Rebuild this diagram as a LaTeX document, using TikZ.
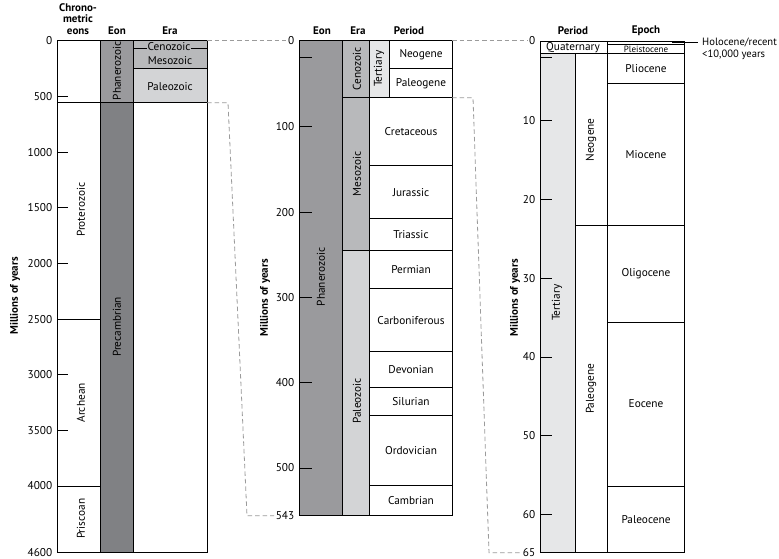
\documentclass[tikz,border=0pt]{standalone}
\usepackage{fontspec}
\setmainfont{PT Sans}
\usetikzlibrary{calc,positioning}
\definecolor{geoEonDark}{HTML}{808184}
\definecolor{geoEonMid}{HTML}{9A9A9D}
\definecolor{geoEraMid}{HTML}{B8B9BB}
\definecolor{geoEraLight}{HTML}{D3D4D6}
\definecolor{geoTert}{HTML}{E6E7E8}
\definecolor{geoLink}{HTML}{9B9B9B}
\begin{document}
\begin{tikzpicture}[x=1pt,y=-1pt,line cap=butt,line join=miter,font=\fontsize{11.3}{13}\selectfont]
\path[fill=white] (0,0) rectangle (779,556);
\tikzset{cell/.style={draw=black,line width=0.9pt},tick/.style={draw=black,line width=0.9pt},link/.style={draw=geoLink,line width=0.8pt,dash pattern=on 4.5pt off 3pt},hdr/.style={font=\fontsize{11}{12.5}\selectfont\bfseries,align=center},vlbl/.style={rotate=90},num/.style={anchor=east,inner sep=1.5pt}}
% chronometric eons, full span
\path[fill=geoEonMid] (100,40) rectangle (133,102);
\path[fill=geoEonDark] (100,102) rectangle (133,552);
\path[fill=geoEraMid] (133,40) rectangle (207,68);
\path[fill=geoEraLight] (133,68) rectangle (207,102);
\draw[cell] (133,47.5) -- (207,47.5);
\node[fill=geoEraMid,inner sep=0.6pt] (ceno1) at (169,45.5) {Cenozoic};
\draw[cell] (57,40) rectangle (207,552);
\draw[cell] (100,40) -- (100,552) (133,40) -- (133,552);
\draw[cell] (57,102) -- (207,102) (133,68) -- (207,68);
\draw[cell] (57,318.3) -- (100,318.3) (57,485.2) -- (100,485.2);
\foreach \v in {500,1000,1500,2000,3000,3500} \draw[tick] (57,40+\v*0.1113) -- (68,40+\v*0.1113);
\foreach \v in {0,500,1000,1500,2000,2500,3000,3500,4000,4600} \node[num] at (54,40+\v*0.1113) {\v};
\node[hdr] (chrono) at (78,18) {Chrono-\\[-1pt]metric\\[-1pt]eons};
\node[hdr] (eon1) at (117,30) {Eon};
\node[hdr] (era1) at (170,30) {Era};
\node[hdr,vlbl] (myr1) at (15,295) {Millions of years};
\node[vlbl] (phan1) at (117,70) {Phanerozoic};
\node[vlbl] (prec) at (117,326) {Precambrian};
\node[vlbl] (prot) at (81,209) {Proterozoic};
\node[vlbl] (arch) at (81,402) {Archean};
\node[vlbl] (prisc) at (81,518) {Priscoan};
\node (meso1) at (170,60) {Mesozoic};
\node (paleo1) at (170,86) {Paleozoic};
% Phanerozoic
\path[fill=geoEonMid] (299,40) rectangle (342,515);
\path[fill=geoEraMid] (342,40) rectangle (369,250);
\path[fill=geoEraLight] (342,250) rectangle (369,515);
\path[fill=geoTert] (369,40) rectangle (389,97);
\draw[cell] (299,40) rectangle (452,515);
\draw[cell] (342,40) -- (342,515) (369,40) -- (369,515) (389,40) -- (389,97);
\draw[cell] (342,97) -- (452,97) (342,250) -- (452,250) (389,68) -- (452,68);
\foreach \y in {165,218,288,351,387,415,485} \draw[cell] (369,\y) -- (452,\y);
\foreach \v in {19,100,200,300,400,500} \draw[tick] (299,40.7+\v*0.853) -- (312,40.7+\v*0.853);
\foreach \v in {100,200,300,400,500} \node[num] at (296,40.7+\v*0.853) {\v};
\node[num] (zero2) at (296,40) {0};
\node[num] (base2) at (296,515) {543};
\node[hdr] (eon2) at (322,30) {Eon};
\node[hdr] (era2) at (358,30) {Era};
\node[hdr] (per2) at (409,30) {Period};
\node[hdr,vlbl] (myr2) at (265,297) {Millions of years};
\node[vlbl] (phan2) at (321,276) {Phanerozoic};
\node[vlbl] (ceno2) at (357,68) {Cenozoic};
\node[vlbl] (meso2) at (357,173) {Mesozoic};
\node[vlbl] (paleo2) at (357,400) {Paleozoic};
\node[vlbl] (tert2) at (379,68) {Tertiary};
\node (neog2) at (421,54) {Neogene};
\node (paleog2) at (421,82.5) {Paleogene};
\node (cret) at (411,131) {Cretaceous};
\node (jur) at (411,191.5) {Jurassic};
\node (tri) at (411,234) {Triassic};
\node (perm) at (411,269) {Permian};
\node (carb) at (411,319.5) {Carboniferous};
\node (dev) at (411,369) {Devonian};
\node (sil) at (411,401) {Silurian};
\node (ord) at (411,450) {Ordovician};
\node (camb) at (411,500) {Cambrian};
% Tertiary
\path[fill=geoTert] (540,53) rectangle (575,552);
\draw[cell] (540,40.7) rectangle (684,552);
\draw[cell] (540,53) -- (684,53) (607,40.7) -- (607,552) (575,53) -- (575,552);
\draw[cell] (607,43.3) -- (684,43.3) (575,225) -- (684,225);
\foreach \y in {83,322,486} \draw[cell] (607,\y) -- (684,\y);
\foreach \v in {2,10,20,30,40,50,60} \draw[tick] (540,41+\v*7.88) -- (552,41+\v*7.88);
\foreach \v in {10,20,30,40,50,60} \node[num] at (537,41+\v*7.88) {\v};
\node[num] (zero3) at (537,40) {0};
\node[num] (base3) at (537,552) {65};
\node[hdr] (per3) at (573,30) {Period};
\node[hdr] (epo3) at (646,30) {Epoch};
\node[hdr,vlbl] (myr3) at (515,297) {Millions of years};
\node (quat) at (573,46.5) {Quaternary};
\node[font=\fontsize{9}{10}\selectfont] (pleis) at (646,48.5) {Pleistocene};
\node (plio) at (646,68) {Pliocene};
\node (mio) at (646,154) {Miocene};
\node (oligo) at (646,273) {Oligocene};
\node (eoc) at (646,403) {Eocene};
\node (paleoc) at (646,519) {Paleocene};
\node[vlbl] (tert3) at (557,302) {Tertiary};
\node[vlbl] (neog3) at (591,139) {Neogene};
\node[vlbl] (paleog3) at (591,388) {Paleogene};
\coordinate (holoA) at (672,42);
\node[anchor=west,inner sep=0pt,align=left,font=\fontsize{10.6}{12}\selectfont] (holo) at (702,48) {Holocene/recent\\<10,000 years};
\draw[cell] (holoA) -- ($(holo.west |- holoA)+(-4,0)$);
% zoom links
\coordinate (top1) at (207,40); \coordinate (base1) at (207,102);
\coordinate (top2) at (452,40); \coordinate (cut2) at (452,97);
\draw[link] (top1) -- (zero2);
\draw[link] (base1) -- (228,102) -- (247,515) -- (base2);
\draw[link] (top2) -- (zero3);
\draw[link] (cut2) -- (473,97) -- (489,552) -- (base3);
\end{tikzpicture}
\end{document}
